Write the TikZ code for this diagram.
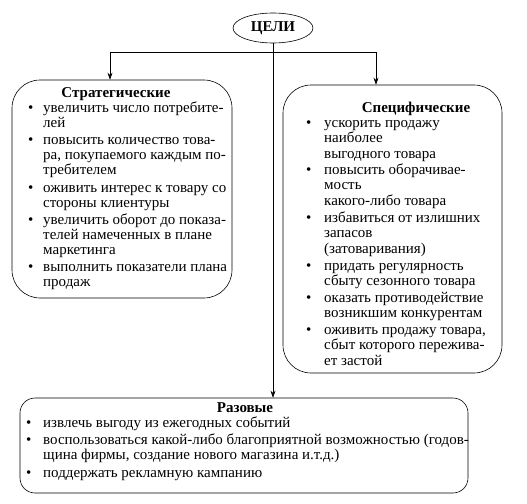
\documentclass[tikz,border=0pt]{standalone}
\usepackage{fontspec}
\setmainfont{Liberation Serif}
\usetikzlibrary{shapes.geometric,arrows.meta}
\tikzset{
  box/.style={draw, line width=0.6pt, rounded corners=28pt, inner sep=0pt},
  ttl/.style={anchor=base, font=\fontsize{15}{15}\selectfont\bfseries, inner sep=0pt},
  itm/.style={anchor=base west, inner sep=0pt, font=\fontsize{15}{15}\selectfont},
  conn/.style={line width=0.6pt},
  arr/.style={line width=0.6pt, -{Stealth[length=7pt,width=5pt]}},
}
\newcommand{\itL}[1]{\begin{tabular}[t]{@{}p{15pt}@{}l@{}}\textbullet & \begin{tabular}[t]{@{}l@{}}#1\end{tabular}\end{tabular}}
\newcommand{\itR}[1]{\begin{tabular}[t]{@{}p{18pt}@{}l@{}}\textbullet & \begin{tabular}[t]{@{}l@{}}#1\end{tabular}\end{tabular}}
\newcommand{\itB}[1]{\begin{tabular}[t]{@{}p{17pt}@{}l@{}}\textbullet & \begin{tabular}[t]{@{}l@{}}#1\end{tabular}\end{tabular}}
\begin{document}
\begin{tikzpicture}[x=1pt,y=-1pt]
\useasboundingbox (0,0) rectangle (527,503);
% goal ellipse
\node[draw, ellipse, line width=0.6pt, minimum width=80pt, minimum height=30pt, inner sep=0pt,
  font=\fontsize{15}{15}\selectfont\bfseries] (celi) at (273,28) {ЦЕЛИ};
% boxes
\node[box, minimum width=220pt, minimum height=218pt] (strat) at (122,189) {};
\node[box, minimum width=219pt, minimum height=288pt] (spec) at (392.5,229) {};
\node[box, rounded corners=15pt, minimum width=448pt, minimum height=95pt] (raz) at (244,445.5) {};
% connectors
\coordinate (jl) at (110,52);
\coordinate (jr) at (376,52);
\draw[conn] (jl) -- (jr);
\draw[arr] (jl) -- (jl |- strat.north);
\draw[arr] (jr) -- (jr |- spec.north);
\draw[arr] (celi.south) -- (celi.south |- raz.north);
% titles
\node[ttl] (tstrat) at (116,97) {Стратегические};
\node[ttl] (tspec) at (416,112) {Специфические};
\node[ttl] (traz) at (245,412) {Разовые};
% left items
\node[itm] (s1) at (28,112) {\itL{увеличить число потребите-\\лей}};
\node[itm] (s2) at (28,144) {\itL{повысить количество това-\\ра, покупаемого каждым по-\\требителем}};
\node[itm] (s3) at (28,192) {\itL{оживить интерес к товару со\\стороны клиентуры}};
\node[itm] (s4) at (28,224) {\itL{увеличить оборот до показа-\\телей намеченных в плане\\маркетинга}};
\node[itm] (s5) at (28,271) {\itL{выполнить показатели плана\\продаж}};
% right items
\begin{scope}[itm/.append style={font=\fontsize{15}{15.5}\selectfont}]
\node[itm] (p1) at (306,127) {\itR{ускорить продажу\\наиболее\\выгодного товара}};
\node[itm] (p2) at (306,174) {\itR{повысить оборачивае-\\мость\\какого-либо товара}};
\node[itm] (p3) at (306,222) {\itR{избавиться от излишних\\запасов\\(затоваривания)}};
\node[itm] (p4) at (306,270) {\itR{придать регулярность\\сбыту сезонного товара}};
\node[itm] (p5) at (306,302) {\itR{оказать противодействие\\возникшим конкурентам}};
\node[itm] (p6) at (306,334) {\itR{оживить продажу товара,\\сбыт которого пережива-\\ет застой}};
\end{scope}
% bottom items
\node[itm] (r1) at (26,427) {\itB{извлечь выгоду из ежегодных событий}};
\node[itm] (r2) at (26,444) {\itB{воспользоваться какой-либо благоприятной возможностью (годов-\\щина фирмы, создание нового магазина и.т.д.)}};
\node[itm] (r3) at (26,477) {\itB{поддержать рекламную кампанию}};
\end{tikzpicture}
\end{document}
